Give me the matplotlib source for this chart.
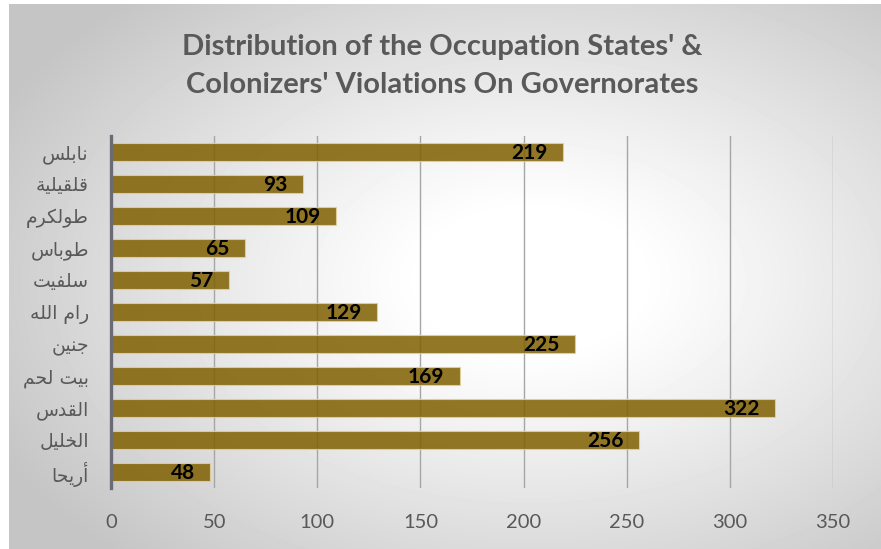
#!/usr/bin/env python3

import numpy as np
import matplotlib
matplotlib.use('Agg')
import matplotlib.pyplot as plt

# %%

TITLE = "Distribution of the Occupation States' &\nColonizers' Violations On Governorates"

# bottom to top, as drawn
governorates = ['أريحا', 'الخليل', 'القدس', 'بيت لحم', 'جنين', 'رام الله',
                'سلفيت', 'طوباس', 'طولكرم', 'قلقيلية', 'نابلس']
violations = [48, 256, 322, 169, 225, 129, 57, 65, 109, 93, 219]
x_ticks = [0, 50, 100, 150, 200, 250, 300, 350]

GRAY_TEXT = '#595959'
BAR_COLOR = '#7f6000'

# Arabic presentation forms: isolated, final, initial, medial
FORMS = {
    'ا': (0xFE8D, 0xFE8E, None, None),
    'أ': (0xFE83, 0xFE84, None, None),
    'ب': (0xFE8F, 0xFE90, 0xFE91, 0xFE92),
    'ة': (0xFE93, 0xFE94, None, None),
    'ت': (0xFE95, 0xFE96, 0xFE97, 0xFE98),
    'ج': (0xFE9D, 0xFE9E, 0xFE9F, 0xFEA0),
    'ح': (0xFEA1, 0xFEA2, 0xFEA3, 0xFEA4),
    'خ': (0xFEA5, 0xFEA6, 0xFEA7, 0xFEA8),
    'د': (0xFEA9, 0xFEAA, None, None),
    'ر': (0xFEAD, 0xFEAE, None, None),
    'س': (0xFEB1, 0xFEB2, 0xFEB3, 0xFEB4),
    'ط': (0xFEC1, 0xFEC2, 0xFEC3, 0xFEC4),
    'ف': (0xFED1, 0xFED2, 0xFED3, 0xFED4),
    'ق': (0xFED5, 0xFED6, 0xFED7, 0xFED8),
    'ك': (0xFED9, 0xFEDA, 0xFEDB, 0xFEDC),
    'ل': (0xFEDD, 0xFEDE, 0xFEDF, 0xFEE0),
    'م': (0xFEE1, 0xFEE2, 0xFEE3, 0xFEE4),
    'ن': (0xFEE5, 0xFEE6, 0xFEE7, 0xFEE8),
    'ه': (0xFEE9, 0xFEEA, 0xFEEB, 0xFEEC),
    'و': (0xFEED, 0xFEEE, None, None),
    'ي': (0xFEF1, 0xFEF2, 0xFEF3, 0xFEF4),
}


def shape_arabic(text):
    # matplotlib has no shaping/bidi, so pick joined forms and reverse
    out = []
    for i, ch in enumerate(text):
        if ch not in FORMS:
            out.append(ch)
            continue
        prev = text[i-1] if i > 0 else None
        nxt = text[i+1] if i + 1 < len(text) else None
        iso, fin, ini, med = FORMS[ch]
        joins_prev = prev in FORMS and FORMS[prev][2] is not None
        joins_next = ini is not None and nxt in FORMS
        if joins_prev and joins_next:
            c = med
        elif joins_prev:
            c = fin
        elif joins_next:
            c = ini
        else:
            c = iso
        out.append(chr(c))
    return ''.join(reversed(out))


W, H = 881, 549
fig = plt.figure(figsize=(W / 100, H / 100), dpi=100)

# radial gradient background
bg = fig.add_axes([0, 0, 1, 1])
yy, xx = np.mgrid[0:H, 0:W]
d = np.sqrt(((xx - 530) / 600.0) ** 2 + ((yy - 280) / 380.0) ** 2)
t = np.clip((d - 0.18) / 0.82, 0, 1) ** 1.1
shade = 1 - 0.23 * t
shade[:, :9] = 1.0
shade[:4, :] = 1.0
bg.imshow(shade, cmap='gray', vmin=0, vmax=1, extent=(0, W, H, 0),
          interpolation='bilinear', aspect='auto')
bg.set_xlim(0, W)
bg.set_ylim(H, 0)
bg.axis('off')

ax = fig.add_axes([111 / W, 1 - 488 / H, (833 - 111) / W, (488 - 136) / H])
ax.patch.set_alpha(0)

y = np.arange(len(governorates))
bars = ax.barh(y, violations, height=0.58, color=BAR_COLOR, alpha=0.85,
               edgecolor='#e3d39a', linewidth=0.8, zorder=3)

for yi, v in zip(y, violations):
    ax.annotate(str(v), xy=(v, yi), xytext=(-11, -1), textcoords='offset points',
                ha='right', va='center', fontsize=15, fontweight='bold',
                family='Lato', color='black', zorder=4)

ax.set_xlim(0, 350)
ax.set_ylim(-0.5, len(governorates) - 0.5)
ax.set_xticks(x_ticks)
ax.set_xticklabels([str(t) for t in x_ticks], fontsize=14.5, family='Lato',
                   color=GRAY_TEXT)
ax.set_yticks(y)
ax.set_yticklabels([shape_arabic(g) for g in governorates], fontsize=13.5,
                   family='DejaVu Sans', color=GRAY_TEXT)
ax.tick_params(axis='both', length=0)
ax.tick_params(axis='x', pad=19)
ax.tick_params(axis='y', pad=16)

for gx in x_ticks[1:]:
    ax.axvline(gx, color='#a6a6a6', linewidth=1.0, zorder=1)

for s in ['top', 'right', 'bottom']:
    ax.spines[s].set_visible(False)
ax.spines['left'].set_color('#6b6b75')
ax.spines['left'].set_linewidth(2.4)
ax.spines['left'].set_zorder(5)

fig.text(0.5 * (180 + 705) / W, 1 - 66 / H, TITLE, ha='center', va='center',
         fontsize=21, fontweight='bold', family='Lato', color=GRAY_TEXT,
         linespacing=1.55)

fig.savefig('out.png', dpi=100)
